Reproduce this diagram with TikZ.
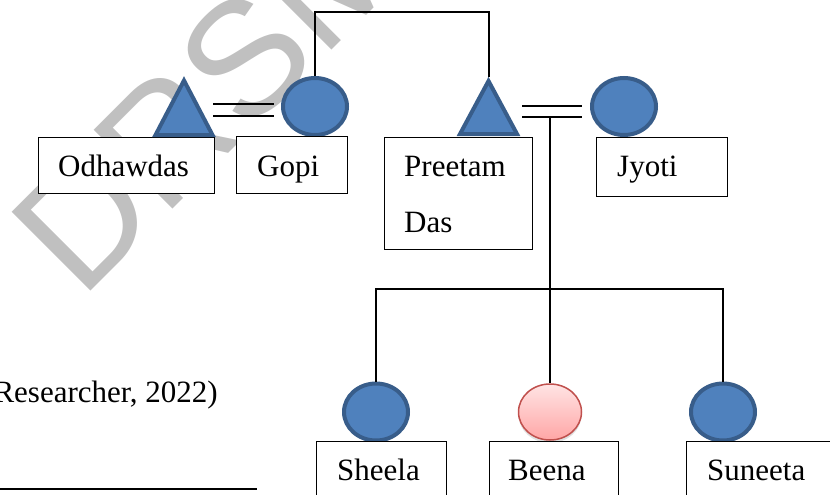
\documentclass[tikz,border=0pt]{standalone}
\usepackage{fontspec}
\setmainfont{Liberation Serif}
\newfontfamily\wmfont{Liberation Sans}
\usetikzlibrary{shapes.geometric,shadows}
\definecolor{pblue}{HTML}{4F81BD}
\definecolor{pbluedk}{HTML}{385D8A}
\definecolor{pred}{HTML}{C0504D}
\definecolor{ppinkt}{RGB}{255,228,228}
\definecolor{ppinkb}{RGB}{255,166,166}
\definecolor{wmgray}{RGB}{192,192,192}
\begin{document}
\begin{tikzpicture}[x=1pt,y=-1pt,
  box/.style={draw=black, line width=1.2pt, fill=white, rectangle, anchor=north west, inner sep=0pt},
  lbl/.style={anchor=base west, inner sep=0pt, font=\fontsize{31}{37}\selectfont},
  male/.style={draw=pbluedk, fill=pblue, line width=4pt, line join=miter},
  female/.style={ellipse, draw=pbluedk, fill=pblue, line width=4pt, minimum width=64pt, minimum height=57pt, inner sep=0pt},
  girl/.style={ellipse, draw=pred, line width=1.5pt, top color=ppinkt, bottom color=ppinkb, minimum width=63pt, minimum height=56pt, inner sep=0pt,
    drop shadow={opacity=0.25, shadow xshift=0pt, shadow yshift=-3pt}},
  link/.style={draw=black, line width=1.8pt},
  wmark/.style={anchor=base west, inner sep=0pt, rotate=45, text=wmgray, font=\wmfont\fontsize{162}{162}\selectfont}]
\useasboundingbox (0,0) rectangle (830,495);

% watermark
\node[wmark] (wm) at (81,301) {DRSM};

% circles (females)
\node[female] (gopi) at (315,106.5) {};
\node[female] (jyoti) at (624,106.5) {};
\node[female] (sheela) at (376,412) {};
\node[girl] (beena) at (550,412) {};
\node[female] (suneeta) at (723,412) {};

% boxes
\node[box, minimum width=176pt, minimum height=56pt] (obox) at (38,137) {};
\node[box, minimum width=111pt, minimum height=57pt] (gbox) at (236,136) {};
\node[box, minimum width=148pt, minimum height=112pt] (pbox) at (384,137) {};
\node[box, minimum width=131pt, minimum height=59pt] (jbox) at (596,137) {};
\node[box, minimum width=130pt, minimum height=70pt] (sbox) at (316,441) {};
\node[box, minimum width=129pt, minimum height=70pt] (bbox) at (489,441) {};
\node[box, minimum width=150pt, minimum height=70pt] (ubox) at (686,441) {};

% labels
\node[lbl] (otxt) at (58,176) {Odhawdas};
\node[lbl] (gtxt) at (257,176) {Gopi};
\node[lbl] (ptxt) at (404,176) {Preetam};
\node[lbl] (ptxtb) at (404,232) {Das};
\node[lbl] (jtxt) at (617,176) {Jyoti};
\node[lbl] (stxt) at (337,480) {Sheela};
\node[lbl] (btxt) at (508,480) {Beena};
\node[lbl] (utxt) at (707,480) {Suneeta};
\node[anchor=base east, inner sep=0pt, font=\fontsize{31}{37}\selectfont] (src) at (218,402) {Researcher, 2022)};

% triangles (males)
\draw[male] (184,80.5) -- (212.5,135) -- (155.5,135) -- cycle;
\coordinate (oapex) at (184,77);
\draw[male] (488.5,81) -- (517,134) -- (460,134) -- cycle;
\coordinate (papex) at (489,77);

% marriage lines
\coordinate (m1a) at (213,104);
\coordinate (m1b) at (274,104);
\coordinate (m1c) at (213,116);
\coordinate (m1d) at (274,116);
\draw[link] (m1a) -- (m1b);
\draw[link] (m1c) -- (m1d);
\coordinate (m2a) at (522,106);
\coordinate (m2b) at (582,106);
\coordinate (m2c) at (522,117);
\coordinate (m2d) at (582,117);
\coordinate (m2mid) at (550,117);
\draw[link] (m2a) -- (m2b);
\draw[link] (m2c) -- (m2d);

% sibling line between Gopi and Preetam
\coordinate (topbar) at (402,12);
\draw[link] (gopi.north) |- (topbar) -| (papex);

% children
\coordinate (kids) at (550,289);
\draw[link] (m2mid) -- (kids);
\draw[link] (sheela.north) |- (kids) -| (suneeta.north);
\draw[link] (kids) -- (beena.north);

% footnote rule
\coordinate (fnL) at (0,489);
\coordinate (fnR) at (257,489);
\draw[draw=black, line width=2pt] (fnL) -- (fnR);
\end{tikzpicture}
\end{document}
